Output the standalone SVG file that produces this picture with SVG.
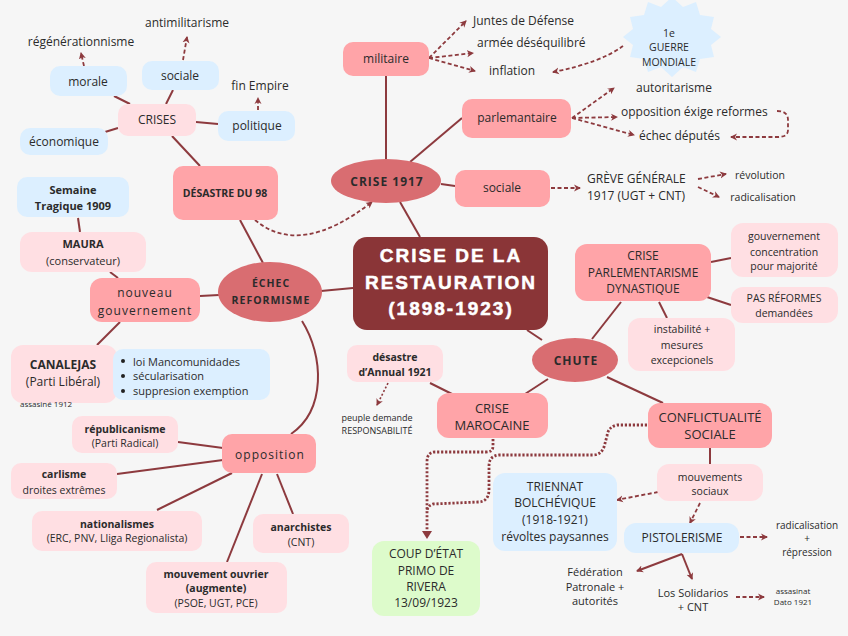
<svg xmlns="http://www.w3.org/2000/svg" width="848" height="636" viewBox="0 0 848 636">
<style>
text{font-family:"Open Sans","Noto Sans","DejaVu Sans",sans-serif;fill:#2b2b2b;text-anchor:middle}
.s12{font-size:12px}.s13{font-size:13px}.s11{font-size:11px}.s10{font-size:10.5px}.s9{font-size:9px}.s8{font-size:8px}.s95{font-size:10px}
.b{font-weight:bold}
.ls{letter-spacing:1px}
.st{text-anchor:start}
.blue{fill:#dcefff}.lp{fill:#ffdfe3}.mp{fill:#ffa4a8}.el{fill:#d96d71}.dk{fill:#8a3537}.gr{fill:#ddfbcb}
.ln{stroke:#8d3a3e;stroke-width:2;fill:none}
.da{stroke:#8d3a3e;stroke-width:1.8;fill:none;stroke-dasharray:4 2.5;marker-end:url(#ah)}
.dot{stroke:#8d3a3e;stroke-width:2.8;fill:none;stroke-dasharray:2.2 1.8}
.sa{stroke:#8d3a3e;stroke-width:2;fill:none;marker-end:url(#ah)}
.title{font-family:"Liberation Sans",Arial,sans-serif;font-weight:bold;font-size:19px;fill:#fff;letter-spacing:2px;stroke:#fff;stroke-width:0.5}
</style>
<defs>
<marker id="ah" markerWidth="8" markerHeight="8" refX="6" refY="4" orient="auto" markerUnits="userSpaceOnUse">
<path d="M0,0.5 L7,4 L0,7.5 L2,4 z" fill="#8d3a3e"/>
</marker>
<marker id="tri" markerWidth="14" markerHeight="10" refX="1" refY="5" orient="auto" markerUnits="userSpaceOnUse">
<path d="M0,0 L8,5 L0,10 z" fill="#8d3a3e"/>
</marker>
</defs>
<rect width="848" height="636" fill="#f6f6f6"/>

<g id="connectors">
<line class="ln" x1="130" y1="104" x2="114" y2="96"/>
<line class="ln" x1="166" y1="104" x2="173" y2="90"/>
<line class="ln" x1="196" y1="122" x2="218" y2="124"/>
<line class="ln" x1="118" y1="128" x2="105" y2="132"/>
<line class="ln" x1="172" y1="136" x2="200" y2="166"/>
<line class="ln" x1="240" y1="220" x2="263" y2="263"/>
<line class="ln" x1="78" y1="218" x2="80" y2="232"/>
<line class="ln" x1="110" y1="272" x2="118" y2="278"/>
<line class="ln" x1="200" y1="296" x2="219" y2="295"/>
<line class="ln" x1="120" y1="322" x2="97" y2="345"/>
<path class="ln" d="M302,321 C324,356 326,410 291,434"/>
<line class="ln" x1="178" y1="442" x2="223" y2="448"/>
<line class="ln" x1="117" y1="474" x2="223" y2="460"/>
<line class="ln" x1="157" y1="510" x2="232" y2="473"/>
<line class="ln" x1="227" y1="562" x2="262" y2="474"/>
<line class="ln" x1="293" y1="514" x2="277" y2="474"/>
<line class="ln" x1="321" y1="291" x2="353" y2="288"/>
<line class="ln" x1="400" y1="202" x2="420" y2="237"/>
<line class="ln" x1="527" y1="330" x2="542" y2="340"/>
<line class="ln" x1="386" y1="76" x2="386" y2="160"/>
<line class="ln" x1="410" y1="162" x2="462" y2="118"/>
<line class="ln" x1="441" y1="184" x2="455" y2="186"/>
<line class="ln" x1="592" y1="339" x2="621" y2="302"/>
<line class="ln" x1="711" y1="262" x2="731" y2="258"/>
<line class="ln" x1="707" y1="297" x2="731" y2="305"/>
<line class="ln" x1="659" y1="302" x2="667" y2="318"/>
<line class="ln" x1="607" y1="377" x2="663" y2="403"/>
<line class="ln" x1="710" y1="448" x2="710" y2="464"/>
<line class="ln" x1="548" y1="379" x2="525" y2="394"/>
<line class="ln" x1="430" y1="383" x2="452" y2="394"/>

<path class="da" d="M84,66 L81,53"/>
<path class="da" d="M183,60 L187,37"/>
<path class="da" d="M258,110 L258,98"/>
<path class="da" d="M255,220 Q300,258 372,202"/>
<path class="da" d="M429,58 L466,21"/>
<path class="da" d="M429,58 L473,53"/>
<path class="da" d="M429,58 L475,71"/>
<path class="da" d="M623,46 Q600,63 553,72"/>
<path class="da" d="M572,118 L614,88"/>
<path class="da" d="M572,118 L617,117"/>
<path class="da" d="M572,118 L634,135"/>
<path class="da" d="M777,111 Q788,111 788,120 L788,130 Q788,137 778,137 L731,137"/>
<path class="da" d="M551,188 L580,188"/>
<path class="da" d="M698,179 L726,174"/>
<path class="da" d="M698,187 L719,197"/>
<path class="da" d="M658,492 L617,500"/>
<path class="da" d="M700,503 L690,523"/>
<path class="da" d="M740,537 L767,537"/>
<path class="da" d="M736,597 L764,597"/>
<path class="da" style="stroke-dasharray:2 2;stroke-width:1.6" d="M388,383 L377,405"/>
<path class="sa" d="M682,554 L637,571"/>
<path class="sa" d="M682,554 L692,579"/>

<path class="dot" d="M493,439 L493,446 Q493,452 486,452 L435,452 Q427,452 427,462 L427,532" marker-end="url(#tri)"/>
<path class="dot" d="M647,425 L617,425 Q608,427 607,436 L604,447 Q601,455 593,455 L499,455 Q489,456 489,466 L489,491 Q488,502 478,502 L433,504 Q427,506 427,512"/>
</g>

<g id="crises"><rect class="lp" x="118" y="104" width="78" height="32" rx="10"/><text class="s12" x="157" y="124">CRISES</text></g>
<g id="morale"><rect class="blue" x="50" y="66" width="77" height="30" rx="10"/><text class="s12" x="88" y="86">morale</text></g>
<g id="sociale1"><rect class="blue" x="142" y="61" width="77" height="29" rx="10"/><text class="s12" x="180" y="80">sociale</text></g>
<g id="politique"><rect class="blue" x="218" y="111" width="77" height="30" rx="10"/><text class="s12" x="257" y="130">politique</text></g>
<g id="economique"><rect class="blue" x="20" y="128" width="88" height="27" rx="10"/><text class="s12" x="64" y="146">économique</text></g>
<g id="regen"><text class="s12" x="81" y="46">régénérationnisme</text></g>
<g id="antimil"><text class="s12" x="187" y="27">antimilitarisme</text></g>
<g id="finempire"><text class="s12" x="260" y="90">fin Empire</text></g>

<g id="desastre98"><rect class="mp" x="173" y="166" width="105" height="54" rx="10"/><text class="s10 b" x="225" y="197">DÉSASTRE DU 98</text></g>
<g id="semaine"><rect class="blue" x="17" y="177" width="112" height="40" rx="10"/><text class="s11 b" x="73" y="194">Semaine</text><text class="s11 b" x="73" y="210">Tragique 1909</text></g>
<g id="maura"><rect class="lp" x="20" y="232" width="126" height="40" rx="12"/><text class="s11 b" x="83" y="248">MAURA</text><text class="s11" x="83" y="265">(conservateur)</text></g>
<g id="nouveau"><rect class="mp" x="90" y="278" width="110" height="44" rx="12"/><text class="s12 ls" x="145" y="297">nouveau</text><text class="s12 ls" x="145" y="315">gouvernement</text></g>
<g id="echec"><ellipse class="el" cx="270" cy="292" rx="52" ry="30"/><text class="s10 b ls" x="271" y="287">ÉCHEC</text><text class="s10 b ls" x="271" y="304">REFORMISME</text></g>
<g id="canalejas"><rect class="lp" x="11" y="345" width="106" height="58" rx="12"/><text class="s12 b" x="63" y="369">CANALEJAS</text><text class="s12" x="63" y="386">(Parti Libéral)</text><text class="s8 st" x="20" y="407">assasiné 1912</text></g>
<g id="bullets"><rect class="blue" x="113" y="349" width="157" height="51" rx="10"/>
<circle cx="123" cy="361" r="2" fill="#222"/><circle cx="123" cy="376" r="2" fill="#222"/><circle cx="123" cy="391" r="2" fill="#222"/>
<text class="s11 st" x="133" y="366">loi Mancomunidades</text><text class="s11 st" x="133" y="380">sécularisation</text><text class="s11 st" x="133" y="395">suppresion exemption</text></g>
<g id="opposition"><rect class="mp" x="222" y="434" width="94" height="39" rx="10"/><text class="s12 ls" x="270" y="459">opposition</text></g>
<g id="republicanisme"><rect class="lp" x="72" y="416" width="106" height="37" rx="10"/><text class="s10 b" x="125" y="433">républicanisme</text><text class="s10" x="125" y="447">(Parti Radical)</text></g>
<g id="carlisme"><rect class="lp" x="11" y="463" width="106" height="36" rx="10"/><text class="s10 b" x="64" y="478">carlisme</text><text class="s10" x="64" y="494">droites extrêmes</text></g>
<g id="nationalismes"><rect class="lp" x="32" y="511" width="170" height="40" rx="10"/><text class="s10 b" x="117" y="528">nationalismes</text><text class="s10" x="117" y="542">(ERC, PNV, Lliga Regionalista)</text></g>
<g id="mouvement"><rect class="lp" x="146" y="562" width="141" height="51" rx="10"/><text class="s10 b" x="216" y="578">mouvement ouvrier</text><text class="s10 b" x="216" y="592">(augmente)</text><text class="s10" x="216" y="607">(PSOE, UGT, PCE)</text></g>
<g id="anarchistes"><rect class="lp" x="253" y="514" width="96" height="39" rx="10"/><text class="s10 b" x="301" y="531">anarchistes</text><text class="s10" x="301" y="546">(CNT)</text></g>

<g id="central"><rect class="dk" x="353" y="237" width="195" height="93" rx="14"/><text class="title" x="451" y="262">CRISE DE LA</text><text class="title" x="451" y="289">RESTAURATION</text><text class="title" x="451" y="315">(1898-1923)</text></g>

<g id="crise1917"><ellipse class="el" cx="386" cy="181" rx="55" ry="22"/><text class="s12 b ls" x="387" y="186">CRISE 1917</text></g>
<g id="militaire"><rect class="mp" x="343" y="42" width="86" height="34" rx="10"/><text class="s12" x="386" y="63">militaire</text></g>
<g id="juntes"><text class="s12 st" x="473" y="25">Juntes de Défense</text></g>
<g id="armee"><text class="s12 st" x="477" y="47">armée déséquilibré</text></g>
<g id="inflation"><text class="s12 st" x="489" y="75">inflation</text></g>
<g id="guerre"><polygon fill="#dcefff" points="672,-3 683,7 696,2 700,15 714,17 711,29 721,37 711,45 714,57 700,59 696,72 683,67 672,77 661,67 648,72 644,59 630,57 633,45 623,37 633,29 630,17 644,15 648,2 661,7"/>
<text class="s10" x="669" y="37">1e</text><text class="s10" x="669" y="51">GUERRE</text><text class="s10" x="669" y="66">MONDIALE</text></g>
<g id="parlemantaire"><rect class="mp" x="462" y="99" width="109" height="39" rx="10"/><text class="s12" x="517" y="122">parlemantaire</text></g>
<g id="autoritarisme"><text class="s12 st" x="636" y="92">autoritarisme</text></g>
<g id="oppositionexige"><text class="s12 st" x="621" y="116">opposition éxige reformes</text></g>
<g id="echecdeputes"><text class="s12 st" x="639" y="140">échec députés</text></g>
<g id="sociale2"><rect class="mp" x="455" y="170" width="95" height="37" rx="10"/><text class="s12" x="502" y="192">sociale</text></g>
<g id="greve"><text class="s12 st" x="587" y="183">GRÈVE GÉNÉRALE</text><text class="s12 st" x="587" y="200">1917 (UGT + CNT)</text></g>
<g id="revolution"><text class="s10" x="760" y="179">révolution</text></g>
<g id="radicalisation1"><text class="s10" x="763" y="201">radicalisation</text></g>

<g id="chute"><ellipse class="el" cx="575" cy="360" rx="43" ry="22"/><text class="s12 b ls" x="576" y="365">CHUTE</text></g>
<g id="criseparl"><rect class="mp" x="575" y="244" width="136" height="57" rx="12"/><text class="s12" x="643" y="260">CRISE</text><text class="s12" x="643" y="277">PARLEMENTARISME</text><text class="s12" x="643" y="293">DYNASTIQUE</text></g>
<g id="gouvconc"><rect class="lp" x="731" y="223" width="107" height="54" rx="12"/><text class="s10" x="784" y="240">gouvernement</text><text class="s10" x="784" y="256">concentration</text><text class="s10" x="784" y="270">pour majorité</text></g>
<g id="pasreformes"><rect class="lp" x="731" y="287" width="107" height="36" rx="12"/><text class="s10" x="784" y="302">PAS RÉFORMES</text><text class="s10" x="784" y="317">demandées</text></g>
<g id="instabilite"><rect class="lp" x="628" y="318" width="107" height="53" rx="12"/><text class="s10" x="682" y="333">instabilité +</text><text class="s10" x="682" y="349">mesures</text><text class="s10" x="682" y="364">excepcionels</text></g>
<g id="conflict"><rect class="mp" x="648" y="403" width="124" height="45" rx="12"/><text class="s13" x="710" y="422">CONFLICTUALITÉ</text><text class="s13" x="710" y="439">SOCIALE</text></g>
<g id="mouvsoc"><rect class="lp" x="657" y="464" width="106" height="37" rx="12"/><text class="s10" x="710" y="481">mouvements</text><text class="s10" x="710" y="495">sociaux</text></g>
<g id="pistolerisme"><rect class="blue" x="624" y="523" width="115" height="30" rx="12"/><text class="s12" x="682" y="542">PISTOLERISME</text></g>
<g id="radicalisation2"><text class="s95" x="807" y="529">radicalisation</text><text class="s95" x="807" y="542">+</text><text class="s95" x="807" y="556">répression</text></g>
<g id="federation"><text class="s11" x="595" y="576">Fédération</text><text class="s11" x="595" y="591">Patronale +</text><text class="s11" x="595" y="605">autorités</text></g>
<g id="solidarios"><text class="s11" x="693" y="597">Los Solidarios</text><text class="s11" x="693" y="611">+ CNT</text></g>
<g id="dato"><text class="s8" x="793" y="594">assasinat</text><text class="s8" x="793" y="605">Dato 1921</text></g>
<g id="triennat"><rect class="blue" x="493" y="473" width="124" height="78" rx="12"/><text class="s12" x="555" y="491">TRIENNAT</text><text class="s12" x="555" y="507">BOLCHÉVIQUE</text><text class="s12" x="555" y="524">(1918-1921)</text><text class="s12" x="555" y="541">révoltes paysannes</text></g>
<g id="marocaine"><rect class="mp" x="437" y="393" width="111" height="45" rx="12"/><text class="s13" x="492" y="413">CRISE</text><text class="s13" x="492" y="430">MAROCAINE</text></g>
<g id="annual"><rect class="lp" x="347" y="345" width="96" height="37" rx="10"/><text class="s10 b" x="395" y="361">désastre</text><text class="s10 b" x="395" y="376">d’Annual 1921</text></g>
<g id="peuple"><text class="s9" x="377" y="421">peuple demande</text><text class="s9" x="377" y="434">RESPONSABILITÉ</text></g>
<g id="coup"><rect class="gr" x="372" y="541" width="108" height="75" rx="12"/><text class="s12" x="426" y="558">COUP D’ÉTAT</text><text class="s12" x="426" y="575">PRIMO DE</text><text class="s12" x="426" y="591">RIVERA</text><text class="s12" x="426" y="607">13/09/1923</text></g>
</svg>
